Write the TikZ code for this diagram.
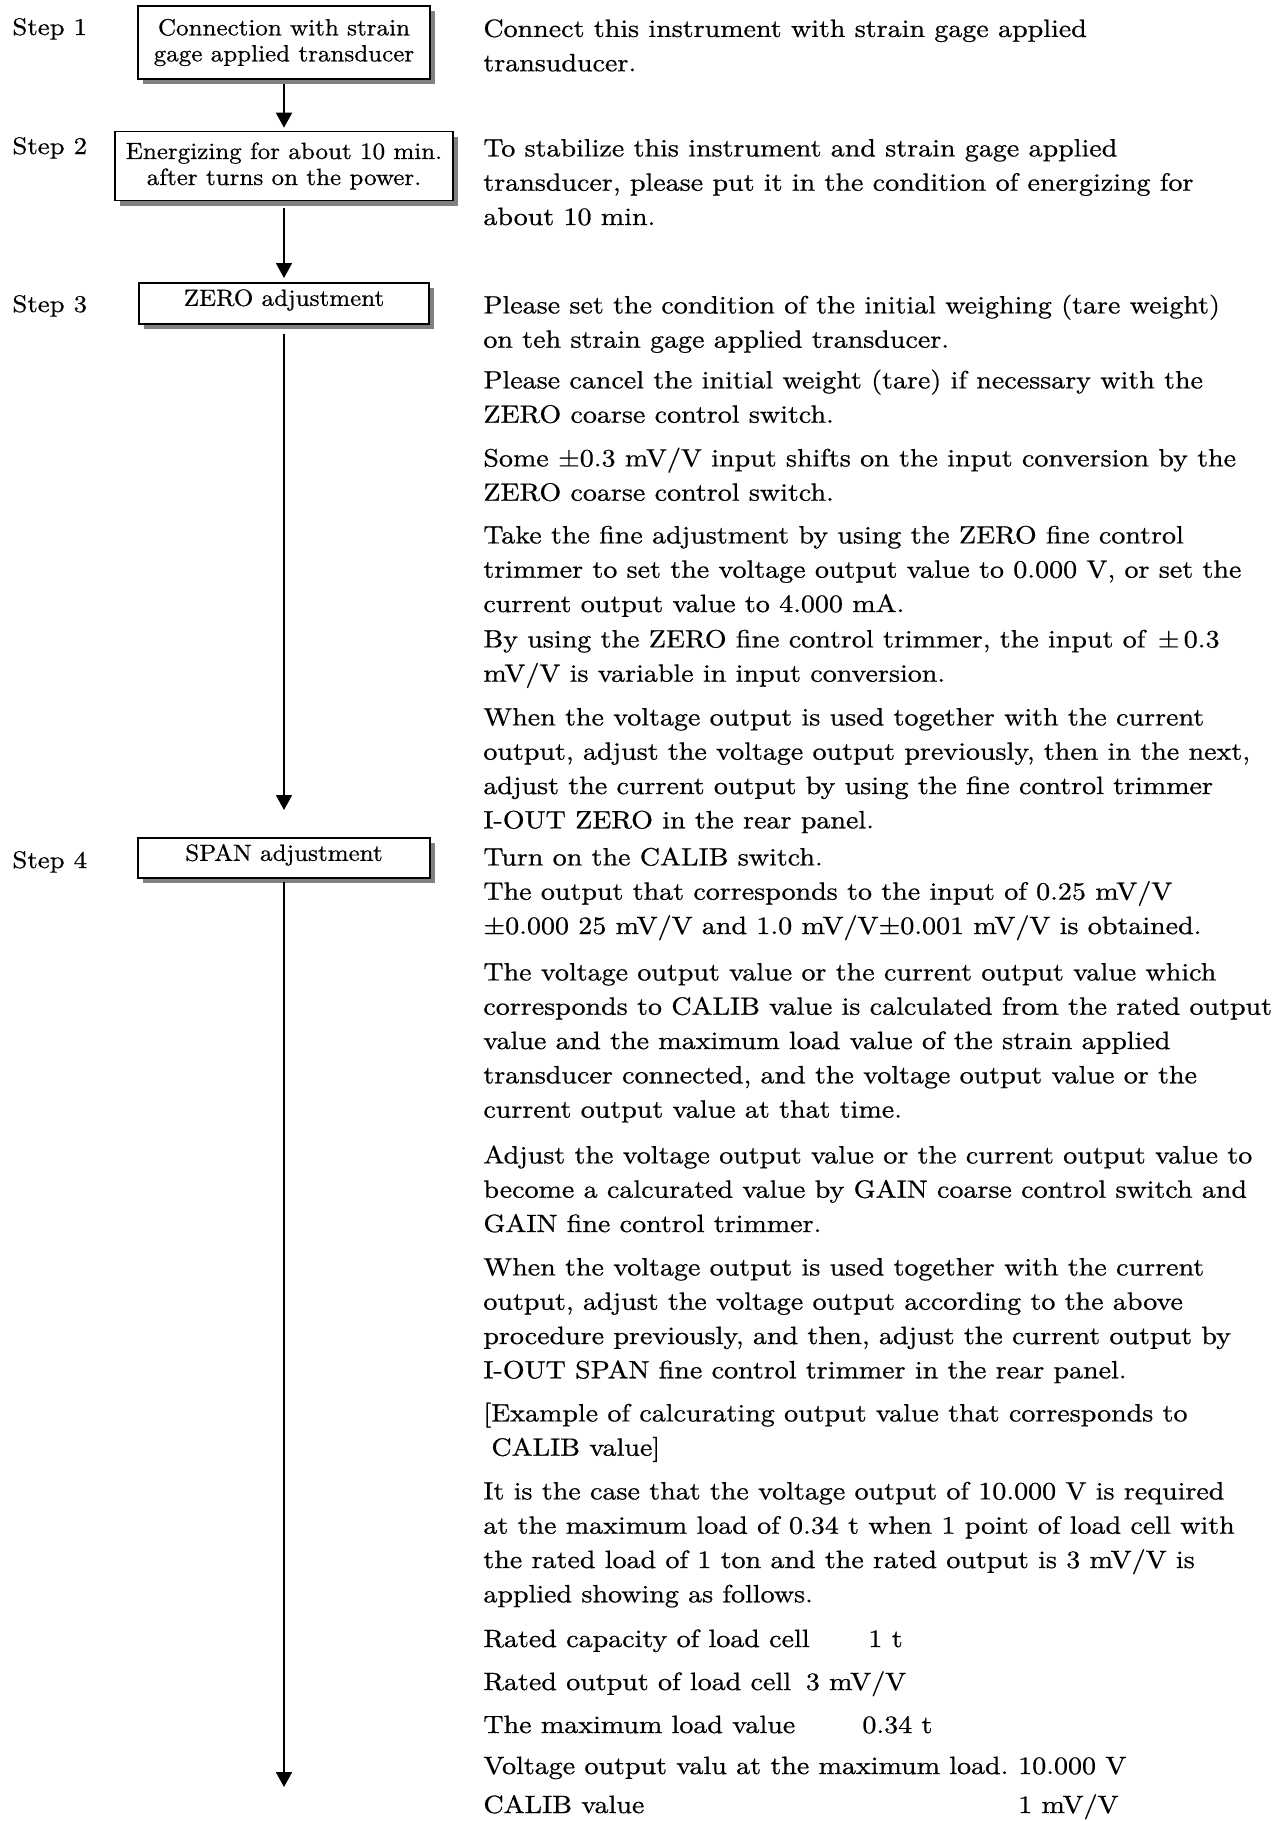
\documentclass[tikz,border=0pt]{standalone}
\usepackage{fontspec}
\usetikzlibrary{arrows.meta,shadows}
\newfontfamily\rtf{lmroman10-regular}[Extension=.otf,FakeStretch=1.12,FakeBold=0.7]
\newfontfamily\btf{lmroman10-regular}[Extension=.otf,FakeStretch=1.07,FakeBold=0.7]
\definecolor{shadowgray}{gray}{0.5}
\tikzset{
  boxst/.style={draw=black, line width=0.8pt, fill=white, inner sep=0pt,
    drop shadow={fill=shadowgray, opacity=1, shadow xshift=2.5pt, shadow yshift=-2.5pt}},
  btext/.style={font=\btf\fontsize{11.7}{13}\selectfont, align=center},
  arr/.style={line width=0.9pt, -{Triangle[length=7.5pt,width=8pt]}},
  para/.style={anchor=north west, inner sep=0pt, align=left,
    font=\rtf\fontsize{12.5}{17.15}\selectfont},
  steplab/.style={anchor=base west, inner sep=0pt, font=\rtf\fontsize{12}{17.15}\selectfont},
  rowlab/.style={anchor=base west, inner sep=0pt, font=\rtf\fontsize{12.5}{17.15}\selectfont},
}
\newcommand{\fs}{\rule{0pt}{10pt}}
\begin{document}
\begin{tikzpicture}[x=0.5pt, y=-0.5pt]
\fill[white] (0,0) rectangle (1285,1821);
\useasboundingbox (0,0) rectangle (1285,1821);

% step labels
\node[steplab] (s1) at (12,35) {Step 1};
\node[steplab] (s2) at (12,154) {Step 2};
\node[steplab] (s3) at (12,312) {Step 3};
\node[steplab] (s4) at (12,868) {Step 4};

% boxes
\node[boxst, btext, minimum width=146pt, minimum height=36.5pt] (b1) at (284,42.5)
  {Connection with strain\\gage applied transducer};
\node[boxst, btext, minimum width=169pt, minimum height=34.5pt] (b2) at (284,166)
  {Energizing for about 10 min.\\after turns on the power.};
\node[boxst, font=\btf\fontsize{11.7}{13}\selectfont, minimum width=145pt,
  text height=11.5pt, text depth=9pt, anchor=north] (b3) at (284,282) {ZERO adjustment};
\node[boxst, font=\btf\fontsize{11.7}{13}\selectfont, minimum width=146pt,
  text height=11.5pt, text depth=8.5pt, anchor=north] (b4) at (284,837) {SPAN adjustment};

% connectors
\coordinate (end) at (284,1787);
\draw[arr, shorten <=2pt, shorten >=1.5pt] (b1.south) -- (b2.north);
\draw[arr, shorten <=3.5pt, shorten >=2pt] (b2.south) -- (b3.north);
\draw[arr, shorten <=4.5pt, shorten >=13.5pt] (b3.south) -- (b4.north);
\draw[arr, shorten <=1.5pt] (b4.south) -- (end);

% right column text
\node[para] (p1) at (483,16.5) {\fs Connect this instrument with strain gage applied\\transuducer.};
\node[para] (p2) at (483,136) {\fs To stabilize this instrument and strain gage applied\\transducer, please put it in the condition of energizing for\\about 10 min.};
\node[para] (p3a) at (483,293) {\fs Please set the condition of the initial weighing (tare weight)\\on teh strain gage applied transducer.};
\node[para] (p3b) at (483,368) {\fs Please cancel the initial weight (tare) if necessary with the\\ZERO coarse control switch.};
\node[para] (p3c) at (483,446) {\fs Some ±0.3 mV/V input shifts on the input conversion by the\\ZERO coarse control switch.};
\node[para] (p3d) at (483,523) {\fs Take the fine adjustment by using the ZERO fine control\\trimmer to set the voltage output value to 0.000 V, or set the\\current output value to 4.000 mA.};
\node[para] (p3e) at (483,627) {\fs By using the ZERO fine control trimmer, the input of\enspace ±\,0.3\\mV/V is variable in input conversion.};
\node[para] (p3f) at (483,705) {\fs When the voltage output is used together with the current\\output, adjust the voltage output previously, then in the next,\\adjust the current output by using the fine control trimmer\\I-OUT ZERO in the rear panel.};
\node[para] (p4a) at (483,845) {\fs Turn on the CALIB switch.\\The output that corresponds to the input of 0.25 mV/V\\±0.000 25 mV/V and 1.0 mV/V±0.001 mV/V is obtained.};
\node[para] (p4b) at (483,960) {\fs The voltage output value or the current output value which\\corresponds to CALIB value is calculated from the rated output\\value and the maximum load value of the strain applied\\transducer connected, and the voltage output value or the\\current output value at that time.};
\node[para] (p4c) at (483,1143) {\fs Adjust the voltage output value or the current output value to\\become a calcurated value by GAIN coarse control switch and\\GAIN fine control trimmer.};
\node[para] (p4d) at (483,1255) {\fs When the voltage output is used together with the current\\output, adjust the voltage output according to the above\\procedure previously, and then, adjust the current output by\\I-OUT SPAN fine control trimmer in the rear panel.};
\node[para] (p4e) at (483,1401) {\fs [Example of calcurating output value that corresponds to\\\hspace*{4pt}CALIB value]};
\node[para] (p4f) at (483,1479) {\fs It is the case that the voltage output of 10.000 V is required\\at the maximum load of 0.34 t when 1 point of load cell with\\the rated load of 1 ton and the rated output is 3 mV/V is\\applied showing as follows.};

% table
\node[rowlab] (t1l) at (483,1647) {Rated capacity of load cell};
\node[rowlab] (t1v) at (868,1647) {1 t};
\node[rowlab] (t2l) at (483,1690) {Rated output of load cell};
\node[rowlab] (t2v) at ([xshift=7pt]t2l.base east) {3 mV/V};
\node[rowlab] (t3l) at (483,1733) {The maximum load value};
\node[rowlab] (t3v) at (862,1733) {0.34 t};
\node[rowlab] (t4l) at (483,1774) {Voltage output valu at the maximum load.};
\node[rowlab] (t4v) at ([xshift=4.5pt]t4l.base east) {10.000 V};
\node[rowlab] (t5l) at (483,1813) {CALIB value};
\node[rowlab] (t5v) at (t4v.base west |- t5l.base) {1 mV/V};
\end{tikzpicture}
\end{document}
